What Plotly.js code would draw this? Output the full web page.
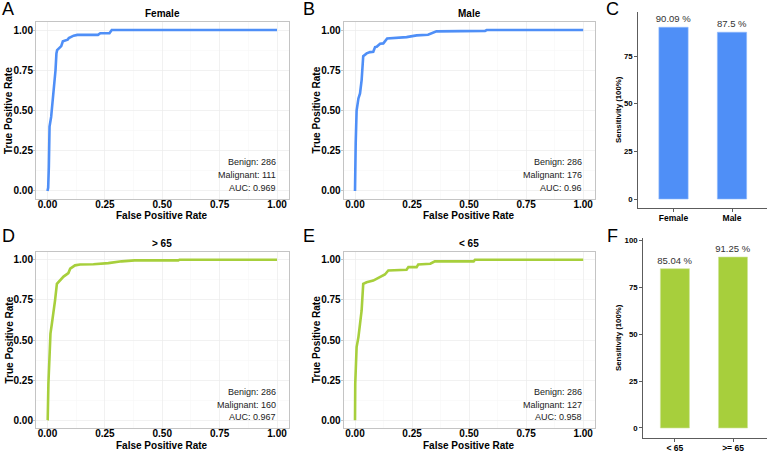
<!DOCTYPE html>
<html>
<head>
<meta charset="utf-8">
<script src="https://cdn.plot.ly/plotly-3.0.1.min.js"></script>
<style>html,body{margin:0;padding:0;background:#fff;}#chart{width:769px;height:452px;}</style>
</head>
<body>
<div id="chart"></div>
<script>
// ROC data
var femaleFpr = [0, 0.003, 0.006, 0.009, 0.016, 0.02, 0.025, 0.03, 0.035, 0.039, 0.042, 0.06, 0.067, 0.088, 0.093, 0.114, 0.13, 0.22, 0.23, 0.27, 0.28, 1.0];
var femaleTpr = [0, 0.02, 0.15, 0.40, 0.46, 0.52, 0.61, 0.67, 0.75, 0.855, 0.875, 0.90, 0.93, 0.94, 0.95, 0.965, 0.97, 0.97, 0.98, 0.98, 1.0, 1.0];

var maleFpr = [0, 0.0, 0.003, 0.007, 0.015, 0.022, 0.029, 0.036, 0.051, 0.066, 0.08, 0.088, 0.095, 0.11, 0.124, 0.141, 0.197, 0.226, 0.27, 0.32, 0.357, 0.518, 0.57, 0.577, 1.0];
var maleTpr = [0, 0.065, 0.295, 0.50, 0.575, 0.606, 0.689, 0.838, 0.855, 0.863, 0.865, 0.894, 0.896, 0.915, 0.917, 0.948, 0.955, 0.956, 0.967, 0.971, 0.992, 0.992, 0.995, 1.0, 1.0];

var over65Fpr = [0, 0.001, 0.004, 0.009, 0.013, 0.019, 0.026, 0.033, 0.041, 0.055, 0.07, 0.091, 0.099, 0.12, 0.142, 0.2, 0.265, 0.323, 0.38, 0.57, 0.575, 1.0];
var over65Tpr = [0, 0.004, 0.228, 0.456, 0.54, 0.60, 0.664, 0.747, 0.85, 0.87, 0.895, 0.917, 0.944, 0.965, 0.97, 0.972, 0.979, 0.99, 0.996, 0.996, 1.0, 1.0];

var under65Fpr = [0, 0, 0.001, 0.007, 0.015, 0.022, 0.029, 0.036, 0.051, 0.08, 0.095, 0.117, 0.131, 0.146, 0.226, 0.234, 0.27, 0.277, 0.33, 0.35, 0.52, 0.526, 1.0];
var under65Tpr = [0, 0.01, 0.228, 0.456, 0.518, 0.60, 0.684, 0.85, 0.86, 0.87, 0.88, 0.895, 0.908, 0.933, 0.937, 0.954, 0.954, 0.97, 0.975, 0.99, 0.99, 1.0, 1.0];

// Panel info text
var rocTitles = ['Female', 'Male', '> 65', '< 65'];
var benignCounts = [286, 286, 286, 286];
var malignantCounts = [111, 176, 160, 127];
var aucValues = ['0.969', '0.96', '0.967', '0.958'];

// Sensitivity bars
var sexCategories = ['Female', 'Male'];
var sexSensitivity = [90.09, 87.5];
var sexLabels = ['90.09 %', '87.5 %'];
var ageCategories = ['< 65', '>= 65'];
var ageSensitivity = [85.04, 91.25];
var ageLabels = ['85.04 %', '91.25 %'];

var panelLetters = ['A', 'B', 'C', 'D', 'E', 'F'];

var BLUE = '#4f8ff7';
var GREEN = '#a7cf3c';
var FONT = 'Liberation Sans, Arial, sans-serif';
var W = 769, H = 452;
function px(x){return x / W;}
function py(y){return 1 - y / H;}

var barText = {family: FONT, size: 9.5, color: '#333'};
var traces = [
  {x: femaleFpr, y: femaleTpr, xaxis: 'x', yaxis: 'y', type: 'scatter', mode: 'lines', line: {color: BLUE, width: 2.6}, hoverinfo: 'skip'},
  {x: maleFpr, y: maleTpr, xaxis: 'x2', yaxis: 'y2', type: 'scatter', mode: 'lines', line: {color: BLUE, width: 2.6}, hoverinfo: 'skip'},
  {x: sexCategories, y: sexSensitivity, text: sexLabels, xaxis: 'x3', yaxis: 'y3', type: 'bar', width: 0.5,
   marker: {color: BLUE, line: {color: '#8fb9fb', width: 0.6}}, textposition: 'outside', cliponaxis: false,
   constraintext: 'none', textfont: barText, outsidetextfont: barText},
  {x: over65Fpr, y: over65Tpr, xaxis: 'x4', yaxis: 'y4', type: 'scatter', mode: 'lines', line: {color: GREEN, width: 2.6}, hoverinfo: 'skip'},
  {x: under65Fpr, y: under65Tpr, xaxis: 'x5', yaxis: 'y5', type: 'scatter', mode: 'lines', line: {color: GREEN, width: 2.6}, hoverinfo: 'skip'},
  {x: ageCategories, y: ageSensitivity, text: ageLabels, xaxis: 'x6', yaxis: 'y6', type: 'bar', width: 0.5,
   marker: {color: GREEN, line: {color: '#cfe49a', width: 0.6}}, textposition: 'outside', cliponaxis: false,
   constraintext: 'none', textfont: barText, outsidetextfont: barText}
];

function rocAxis(domain, anchor, isX) {
  return {
    domain: domain, anchor: anchor, range: [-0.05, 1.05], tick0: 0, dtick: 0.25, tickformat: '.2f',
    showline: true, mirror: true, linecolor: '#c4c4c4', linewidth: 1,
    showgrid: true, gridcolor: '#ebebeb', gridwidth: 0.7,
    minor: {dtick: 0.125, tick0: 0, showgrid: true, gridcolor: '#f5f5f5', gridwidth: 0.5},
    ticks: 'outside', ticklen: 2, tickcolor: '#c4c4c4', tickwidth: 1,
    ticklabelstandoff: isX ? -6 : -2,
    tickfont: {family: FONT, size: 10, color: '#000', weight: 'bold'},
    zeroline: false, fixedrange: true
  };
}
function barAxisX(domain, anchor, range) {
  return {domain: domain, anchor: anchor, range: range, type: 'category', showline: true, linecolor: '#333', linewidth: 0.8,
    ticks: 'outside', ticklen: 3, tickcolor: '#333', tickwidth: 0.8, showgrid: false, zeroline: false,
    ticklabelstandoff: -1,
    tickfont: {family: FONT, size: 8.5, color: '#000', weight: 'bold'}};
}
function barAxisY(domain, anchor, range, vals) {
  return {domain: domain, anchor: anchor, range: range, tickvals: vals, showline: true, linecolor: '#333', linewidth: 0.8,
    ticks: 'outside', ticklen: 3, tickcolor: '#333', tickwidth: 0.8, showgrid: false, zeroline: false,
    tickfont: {family: FONT, size: 7.8, color: '#000', weight: 'bold'}};
}

var topY = [py(199), py(22)];
var botY = [py(428.3), py(251.7)];
var colA = [px(36), px(288.5)];
var colB = [px(343.6), px(594.6)];

var layout = {
  width: W, height: H, margin: {l: 0, r: 0, t: 0, b: 0}, showlegend: false,
  paper_bgcolor: '#fff', plot_bgcolor: '#fff',
  xaxis: rocAxis(colA, 'y', true), yaxis: rocAxis(topY, 'x', false),
  xaxis2: rocAxis(colB, 'y2', true), yaxis2: rocAxis(topY, 'x2', false),
  xaxis3: barAxisX([px(638), px(767)], 'y3', [-0.607, 1.598]),
  yaxis3: barAxisY([py(208), py(12)], 'x3', [-4.72, 98.1], [0, 25, 50, 75]),
  xaxis4: rocAxis(colA, 'y4', true), yaxis4: rocAxis(botY, 'x4', false),
  xaxis5: rocAxis(colB, 'y5', true), yaxis5: rocAxis(botY, 'x5', false),
  xaxis6: barAxisX([px(643), px(767)], 'y6', [-0.549, 1.585]),
  yaxis6: barAxisY([py(438.3), py(238)], 'x6', [-5.5, 101.4], [0, 25, 50, 75, 100]),
  annotations: []
};

var ann = layout.annotations;
function txt(x, y, text, opts) {
  var a = {xref: 'paper', yref: 'paper', x: px(x), y: py(y), text: text, showarrow: false,
    xanchor: 'center', yanchor: 'middle', font: {family: FONT, size: 10, color: '#000'}};
  for (var k in opts) a[k] = opts[k];
  ann.push(a);
}
var bold10 = {family: FONT, size: 10, color: '#000', weight: 'bold'};
// panel letters
var letterPos = [[0, 9], [301, 9], [604, 9], [0, 236.5], [301, 236.5], [605, 236.5]];
panelLetters.forEach(function(l, i){
  txt(letterPos[i][0], letterPos[i][1], l, {xanchor: 'left', font: {family: FONT, size: 18, color: '#000'}});
});
// ROC titles and axis titles
var rocCenters = [[162, 13.3, 110.5, 215.5], [469, 13.3, 110.5, 215.5], [162, 243, 340, 445], [469, 243, 340, 445]];
var yTitleX = [8.5, 316];
rocTitles.forEach(function(t, i){
  var c = rocCenters[i];
  txt(c[0], c[1], t, {font: bold10});
  txt(c[0], c[3], 'False Positive Rate', {font: bold10});
  txt(yTitleX[i % 2], c[2], 'True Positive Rate', {textangle: -90, font: bold10});
  var xr = ['x', 'x2', 'x4', 'x5'][i], yr = ['y', 'y2', 'y4', 'y5'][i];
  var lines = ['Benign: ' + benignCounts[i], 'Malignant: ' + malignantCounts[i], 'AUC: ' + aucValues[i]];
  var ys = [0.178, 0.098, 0.018];
  lines.forEach(function(s, j){
    ann.push({xref: xr, yref: yr, x: 1.0, y: ys[j], text: s, showarrow: false, xanchor: 'right', yanchor: 'middle',
      xshift: 1, font: {family: FONT, size: 9, color: '#222'}});
  });
});
// bar y titles
txt(618, 110, 'Sensitivity (100%)', {textangle: -90, font: {family: FONT, size: 7.8, color: '#000', weight: 'bold'}});
txt(618, 338, 'Sensitivity (100%)', {textangle: -90, font: {family: FONT, size: 7.8, color: '#000', weight: 'bold'}});

Plotly.newPlot('chart', traces, layout, {displayModeBar: false, staticPlot: true});
</script>
</body>
</html>
